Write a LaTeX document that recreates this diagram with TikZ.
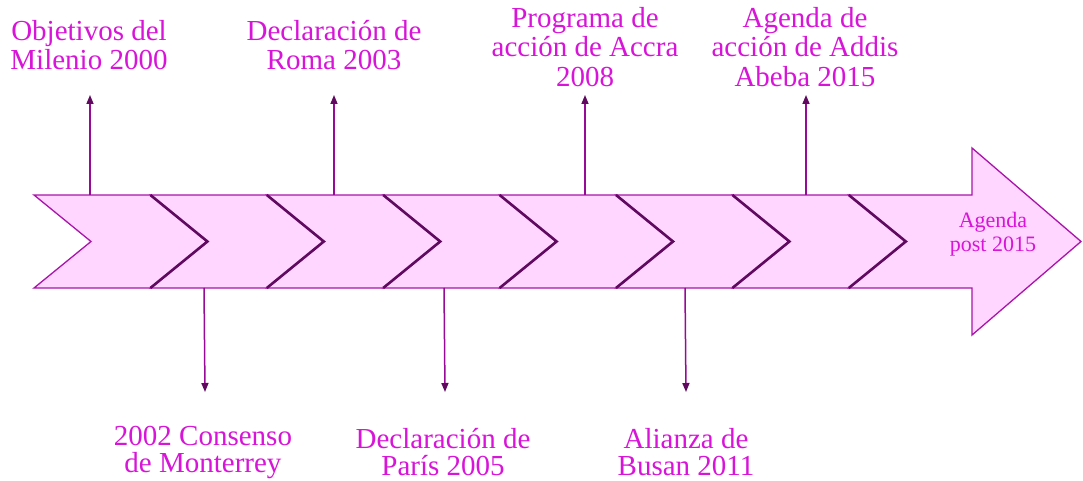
\documentclass[tikz,border=0pt]{standalone}
\usepackage{fontspec}
\newfontfamily\timesx{Liberation Serif}
\usetikzlibrary{arrows.meta}
\definecolor{txtmag}{RGB}{215,20,215}
\definecolor{bandfill}{RGB}{255,214,255}
\definecolor{edgecol}{RGB}{170,20,170}
\definecolor{jointcol}{RGB}{95,10,95}
\definecolor{linecol}{RGB}{150,10,150}
\tikzset{
  lbl/.style={text=txtmag, align=center, font=\timesx\fontsize{29}{29.5}\selectfont, inner sep=0pt},
  lowlbl/.style={text=txtmag, align=center, font=\timesx\fontsize{29}{27}\selectfont, inner sep=0pt},
  smalllbl/.style={text=txtmag, align=center, font=\timesx\fontsize{22}{24}\selectfont, inner sep=0pt},
  chev/.style={fill=bandfill, draw=edgecol, line width=1.3pt, line join=miter},
  joint/.style={draw=jointcol, line width=2.6pt},
  conn/.style={draw=linecol, line width=1.5pt, -{Triangle[length=9pt,width=7pt,color=jointcol]}}
}
\begin{document}
\begin{tikzpicture}[x=1pt,y=-1pt]
\useasboundingbox (0,0) rectangle (1083,481);
% final arrow
\draw[chev] (848.8,195) -- (972,195) -- (972,148) -- (1081,241.5) -- (972,335) -- (972,288) -- (848.8,288) -- (905.8,241.5) -- cycle;
% chevrons
\foreach \i in {6,5,...,0}{
  \pgfmathsetmacro{\e}{34+116.4*\i}
  \pgfmathsetmacro{\n}{\e+116.4}
  \draw[chev] (\e,195) -- (\n,195) -- (\n+57,241.5) -- (\n,288) -- (\e,288) -- (\e+57,241.5) -- cycle;
}
\foreach \i in {1,...,7}{
  \pgfmathsetmacro{\e}{34+116.4*\i}
  \draw[joint] (\e,195) -- (\e+57,241.5) -- (\e,288);
}
% labels
\node[lbl] (l1) at (89,45) {Objetivos del\\Milenio 2000};
\node[lbl] (l2) at (334,45) {Declaración de\\Roma 2003};
\node[lbl] (l3) at (585,47) {Programa de\\acción de Accra\\2008};
\node[lbl] (l4) at (805,47) {Agenda de\\acción de Addis\\Abeba 2015};
\node[lowlbl] (l5) at (203,452) {2002 Consenso\\de Monterrey};
\node[lowlbl] (l6) at (443,452) {Declaración de\\París 2005};
\node[lowlbl] (l7) at (686,452) {Alianza de\\Busan 2011};
\node[smalllbl] (l8) at (993,234) {Agenda\\post 2015};
% connector end points
\coordinate (s1) at (90,195);  \coordinate (t1) at (90,95);
\coordinate (s2) at (334,195); \coordinate (t2) at (334,95);
\coordinate (s3) at (585,195); \coordinate (t3) at (585,95);
\coordinate (s4) at (806,195); \coordinate (t4) at (806,95);
\coordinate (s5) at (204,288); \coordinate (t5) at (205,392);
\coordinate (s6) at (444,288); \coordinate (t6) at (445,392);
\coordinate (s7) at (685,288); \coordinate (t7) at (686,392);
\foreach \k in {1,...,7}{\draw[conn] (s\k) -- (t\k);}
\end{tikzpicture}
\end{document}
